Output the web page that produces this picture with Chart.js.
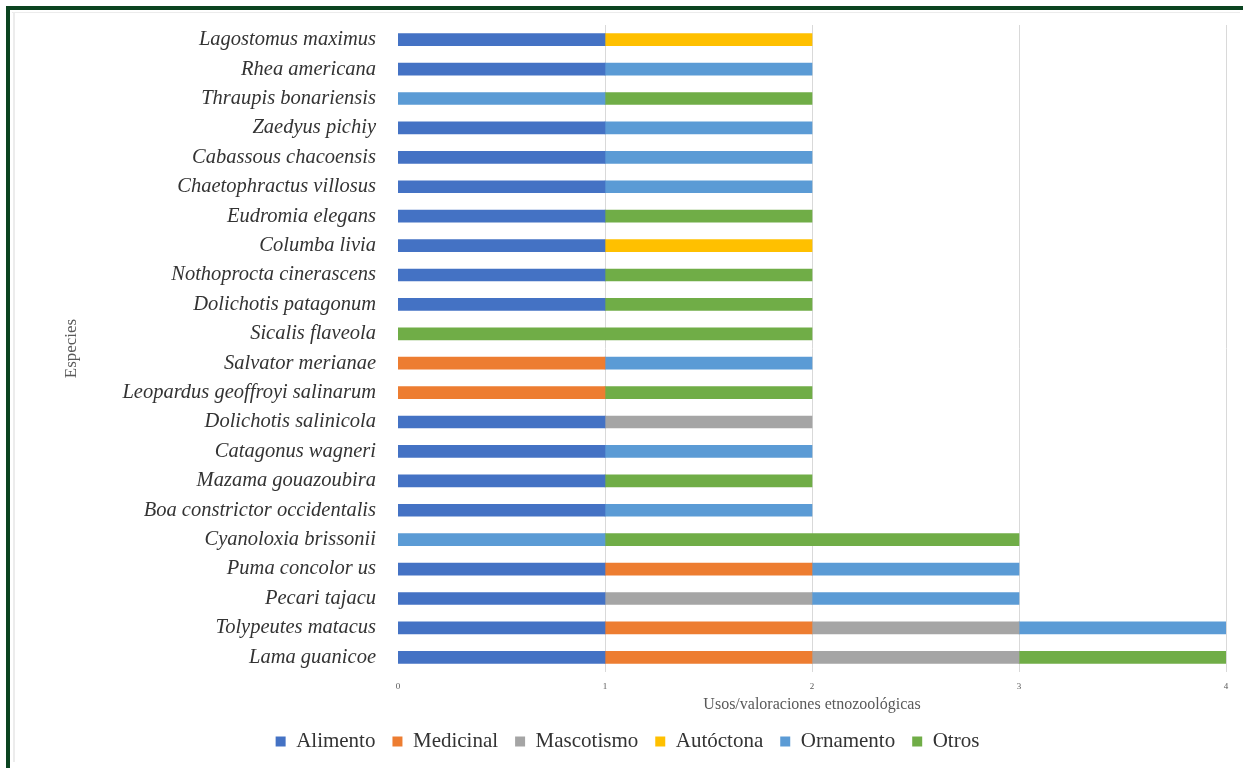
<!DOCTYPE html>
<html>
<head>
<meta charset="utf-8">
<script src="https://cdn.jsdelivr.net/npm/chart.js@4"></script>
<style>
html,body{margin:0;padding:0;background:#fff;}
#wrap{position:relative;width:1243px;height:768px;overflow:hidden;}
#c{position:absolute;left:0;top:0;}
.fl{position:absolute;background:#0b4420;}
.gl{position:absolute;background:#ececec;}
</style>
</head>
<body>
<div id="wrap">
<div class="gl" style="left:12px;top:12px;width:1228px;height:1px;"></div>
<div class="gl" style="left:13px;top:12px;width:2px;height:750px;"></div>
<canvas id="c" width="1243" height="768"></canvas>
<div class="fl" style="left:6px;top:6px;width:1237px;height:4px;"></div>
<div class="fl" style="left:6px;top:6px;width:4px;height:762px;"></div>
</div>
<script>
const categories = [
  "Lagostomus maximus","Rhea americana","Thraupis bonariensis","Zaedyus pichiy",
  "Cabassous chacoensis","Chaetophractus villosus","Eudromia elegans","Columba livia",
  "Nothoprocta cinerascens","Dolichotis patagonum","Sicalis flaveola","Salvator merianae",
  "Leopardus geoffroyi salinarum","Dolichotis salinicola","Catagonus wagneri",
  "Mazama gouazoubira","Boa constrictor occidentalis","Cyanoloxia brissonii",
  "Puma concolor us","Pecari tajacu","Tolypeutes matacus","Lama guanicoe"
];
const alimento   = [1,1,0,1,1,1,1,1,1,1,0,0,0,1,1,1,1,0,1,1,1,1];
const medicinal  = [0,0,0,0,0,0,0,0,0,0,0,1,1,0,0,0,0,0,1,0,1,1];
const mascotismo = [0,0,0,0,0,0,0,0,0,0,0,0,0,1,0,0,0,0,0,1,1,1];
const autoctona  = [1,0,0,0,0,0,0,1,0,0,0,0,0,0,0,0,0,0,0,0,0,0];
const ornamento  = [0,1,1,1,1,1,0,0,0,0,0,1,0,0,1,0,1,1,1,1,1,0];
const otros      = [0,0,1,0,0,0,1,0,1,1,2,0,1,0,0,1,0,2,0,0,0,1];
const xTicks = [0,1,2,3,4];

const mk = (label, data, color) => ({
  label, data: data.map(v => v === 0 ? null : v),
  backgroundColor: color, borderWidth: 0, barThickness: 12
});

const SERIF = 'Liberation Serif';

const legendShift = {
  id: 'legendShift',
  afterLayout(chart) {
    const lg = chart.legend;
    if (lg) { lg.left -= 16; lg.right -= 16; }
  }
};

new Chart(document.getElementById('c'), {
  type: 'bar',
  data: {
    labels: categories,
    datasets: [
      mk('Alimento', alimento, '#4472C4'),
      mk('Medicinal', medicinal, '#ED7D31'),
      mk('Mascotismo', mascotismo, '#A5A5A5'),
      mk('Autóctona', autoctona, '#FFC000'),
      mk('Ornamento', ornamento, '#5B9BD5'),
      mk('Otros', otros, '#70AD47')
    ]
  },
  plugins: [legendShift],
  options: {
    indexAxis: 'y',
    responsive: false,
    animation: false,
    layout: {padding: {left: 61, right: 17, top: 25, bottom: 6}},
    plugins: {
      legend: {
        position: 'bottom',
        labels: {
          boxWidth: 10, boxHeight: 10, padding: 17,
          color: '#333',
          font: {family: SERIF, size: 21}
        }
      },
      tooltip: {enabled: false}
    },
    scales: {
      x: {
        stacked: true, min: 0, max: 4,
        afterBuildTicks: s => { s.ticks = xTicks.map(v => ({value: v})); },
        grid: {color: '#d9d9d9', drawTicks: false, lineWidth: ctx => ctx.tick && ctx.tick.value === 0 ? 0 : 1},
        border: {display: false},
        ticks: {padding: 9, color: '#595959', font: {family: SERIF, size: 9}},
        title: {display: true, text: 'Usos/valoraciones etnozoológicas', color: '#595959',
                font: {family: SERIF, size: 16}, padding: {top: -6, bottom: 0}}
      },
      y: {
        stacked: true,
        grid: {display: false, drawTicks: false},
        border: {display: false},
        afterFit: s => { s.width = 398 - 61; s.paddingTop = 0; s.paddingBottom = 0; },
        ticks: {padding: 22, color: '#333', font: {family: SERIF, size: 20.5, style: 'italic'}},
        title: {display: true, text: 'Especies', color: '#595959',
                font: {family: SERIF, size: 17}, padding: 0}
      }
    }
  }
});
</script>
</body>
</html>
